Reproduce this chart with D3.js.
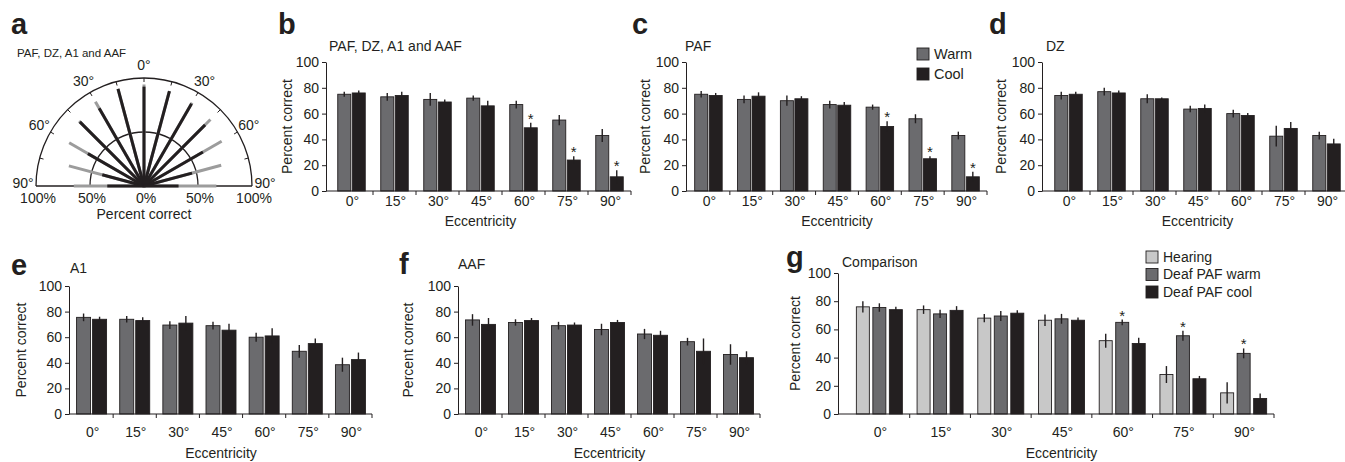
<!DOCTYPE html>
<html>
<head>
<meta charset="utf-8">
<script src="https://cdn.jsdelivr.net/npm/d3@7"></script>
<style>
  html, body { margin: 0; padding: 0; background: #fff; }
  svg { display: block; }
  text { font-family: 'Liberation Sans', Arial, Helvetica, sans-serif; fill: #231f20; }
</style>
</head>
<body>
<div id="chart"></div>
<script>
// ---- data ----
const eccLabels = ['0°', '15°', '30°', '45°', '60°', '75°', '90°'];

// panel a (polar): spoke angle, warm and cool percent correct
const polarAngles = [-90, -75, -60, -45, -30, -15, 0, 15, 30, 45, 60, 75, 90];
const polarWarm = [65, 72, 80, 85, 90, 93, 94, 91, 89, 87, 83, 74, 67];
const polarCool = [34, 40, 60, 84, 83, 93, 92, 91, 88, 80, 63, 46, 32];
const polarAngleLabels = [-90, -60, -30, 0, 30, 60, 90];
const polarPctLabels = [-100, -50, 0, 50, 100];

// panel b: PAF, DZ, A1 and AAF
const bWarm = [75, 73, 71, 72, 67, 55, 43];
const bWarmErr = [2, 3, 5, 2, 3, 4, 5];
const bCool = [76, 74, 69, 66, 49, 24, 11];
const bCoolErr = [2, 3, 2, 4, 4, 3, 5];
const bStars = [4, 5, 6];

// panel c: PAF
const cWarm = [75, 71, 70, 67, 65, 56, 43];
const cWarmErr = [2.5, 3, 4, 3, 2, 3.5, 3];
const cCool = [74, 73.5, 71.5, 66.5, 50, 25, 11];
const cCoolErr = [2, 3, 2, 2.5, 4, 2, 4];
const cStars = [4, 5, 6];

// panel d: DZ
const dWarm = [74, 77, 71.5, 63.5, 60, 42.5, 43];
const dWarmErr = [3, 3, 3.5, 2.5, 3, 8, 3];
const dCool = [75, 76, 71.5, 64, 58.5, 48.5, 36.5];
const dCoolErr = [2, 2, 1, 3, 2, 5, 4];

// panel e: A1
const eWarm = [75.5, 74, 69.5, 69, 60, 49, 38.5];
const eWarmErr = [3, 2.5, 3, 3, 3.5, 5, 5.5];
const eCool = [74, 73, 71, 65.5, 61, 55, 42.5];
const eCoolErr = [2, 2.5, 5.5, 5, 6, 4, 5.5];

// panel f: AAF
const fWarm = [73.5, 71.5, 69, 66, 62.5, 56.5, 46.5];
const fWarmErr = [4.5, 2.5, 3, 4.5, 4, 3, 8];
const fCool = [70, 73, 69.5, 71.5, 61.5, 49, 44];
const fCoolErr = [5, 2, 2, 2, 3.5, 10, 5];

// panel g: comparison
const gHearing = [76, 74, 68, 66.5, 52, 28, 15];
const gHearingErr = [4, 3, 3, 4, 5, 6, 7.5];
const gWarm = [75.5, 71, 69.5, 67.5, 65, 55.5, 43];
const gWarmErr = [3, 3, 3.5, 3.5, 2, 3.5, 3.5];
const gCool = [74, 73.5, 71.5, 66.5, 50, 25, 11];
const gCoolErr = [2, 3, 2, 2, 4, 2, 3.5];
const gStars = [4, 5, 6];

const yTicks = [0, 20, 40, 60, 80, 100];

const COL_WARM = '#6b6b6e';
const COL_COOL = '#231f20';
const COL_HEAR = '#c8c8c8';
const COL_POLAR_GREY = '#9c9c9c';
const INK = '#231f20';

const W = 1345, H = 462;
const svg = d3.select('#chart').append('svg')
    .attr('width', W)
    .attr('height', H);

const letter = (x, y, t) => svg.append('text')
    .attr('x', x).attr('y', y)
    .style('font-size', '29px').style('font-weight', 'bold')
    .text(t);

// ---------- panel a ----------
const drawPolar = () => {
    const cx = 144, cy = 186;
    const r = d3.scaleLinear().domain([0, 100]).range([0, 108]);
    const g = svg.append('g').attr('transform', `translate(${cx},${cy})`);

    // half circles at 50% and 100%
    [50, 100].forEach(v => {
        const p = d3.path();
        p.arc(0, 0, r(v), Math.PI, 2 * Math.PI);
        g.append('path').attr('d', p.toString())
            .attr('fill', 'none').attr('stroke', INK).attr('stroke-width', 1.3);
    });

    // small ticks along the outer arc
    const tickAngles = polarAngles.filter(a => Math.abs(a) < 90);
    g.selectAll('.ptick').data(tickAngles).join('line')
        .attr('x1', a => r(100) * Math.sin(a * Math.PI / 180))
        .attr('y1', a => -r(100) * Math.cos(a * Math.PI / 180))
        .attr('x2', a => (r(100) - 4) * Math.sin(a * Math.PI / 180))
        .attr('y2', a => -(r(100) - 4) * Math.cos(a * Math.PI / 180))
        .attr('stroke', INK).attr('stroke-width', 1);

    // base line
    g.append('line')
        .attr('x1', -r(100)).attr('x2', r(100))
        .attr('y1', 0).attr('y2', 0)
        .attr('stroke', INK).attr('stroke-width', 1.3);

    const spoke = (vals, color) => {
        g.selectAll(null).data(polarAngles).join('line')
            .attr('x1', 0).attr('y1', 0)
            .attr('x2', (a, i) => r(vals[i]) * Math.sin(a * Math.PI / 180))
            .attr('y2', (a, i) => -r(vals[i]) * Math.cos(a * Math.PI / 180))
            .attr('stroke', color).attr('stroke-width', 3);
    };
    spoke(polarWarm, COL_POLAR_GREY);
    spoke(polarCool, INK);

    // angle labels
    g.selectAll('.alab').data(polarAngleLabels).join('text')
        .attr('x', a => 121 * Math.sin(a * Math.PI / 180))
        .attr('y', a => -121 * Math.cos(a * Math.PI / 180) + (Math.abs(a) === 90 ? -3 : 0))
        .attr('dy', '0.35em')
        .attr('text-anchor', 'middle')
        .style('font-size', '14px')
        .text(a => Math.abs(a) + '°');

    // percent labels under the base line
    g.selectAll('.plab').data(polarPctLabels).join('text')
        .attr('x', v => Math.sign(v) * r(Math.abs(v)) + 2)
        .attr('y', 17)
        .attr('text-anchor', 'middle')
        .style('font-size', '14px')
        .text(v => Math.abs(v) + '%');

    svg.append('text').attr('x', cx).attr('y', 219)
        .attr('text-anchor', 'middle').style('font-size', '14px')
        .text('Percent correct');
    svg.append('text').attr('x', 17).attr('y', 57)
        .style('font-size', '11.5px')
        .text('PAF, DZ, A1 and AAF');
    letter(11, 34, 'a');
};

// ---------- bar panels ----------
const drawBars = (cfg) => {
    const y = d3.scaleLinear().domain([0, 100]).range([cfg.yBottom, cfg.yTop]);
    const x = d3.scaleBand().domain(eccLabels).range(cfg.band).paddingInner(0).paddingOuter(0);
    const n = cfg.series.length;
    const groupW = n * cfg.barW + (n - 1) * cfg.gap;
    const barX = (cat, s) => x(cat) + x.bandwidth() / 2 - groupW / 2 + s * (cfg.barW + cfg.gap);

    const g = svg.append('g');

    cfg.series.forEach((s, si) => {
        const rows = eccLabels.map((c, i) => ({ c, v: s.values[i], e: s.errs[i] }));
        g.selectAll(null).data(rows).join('rect')
            .attr('x', d => barX(d.c, si))
            .attr('y', d => y(d.v))
            .attr('width', cfg.barW)
            .attr('height', d => y(0) - y(d.v))
            .attr('fill', s.color)
            .attr('stroke', INK)
            .attr('stroke-width', 0.9);
        g.selectAll(null).data(rows).join('line')
            .attr('x1', d => barX(d.c, si) + cfg.barW / 2)
            .attr('x2', d => barX(d.c, si) + cfg.barW / 2)
            .attr('y1', d => y(d.v - d.e))
            .attr('y2', d => y(d.v + d.e))
            .attr('stroke', INK).attr('stroke-width', 1.4);
        if (s.stars) {
            g.selectAll(null).data(s.stars).join('text')
                .attr('x', i => barX(eccLabels[i], si) + cfg.barW / 2)
                .attr('y', i => y(s.values[i] + s.errs[i]) + 1)
                .attr('text-anchor', 'middle')
                .style('font-size', '15px')
                .text('*');
        }
    });

    // y axis
    const yAxis = d3.axisLeft(y).tickValues(yTicks).tickSize(4).tickSizeOuter(0).tickPadding(3);
    const ya = g.append('g').attr('transform', `translate(${cfg.axisX},0)`).call(yAxis);
    ya.selectAll('path, line').attr('stroke', INK);
    ya.selectAll('text').style('font-size', '14px')
        .style('font-family', "'Liberation Sans', Arial, sans-serif").attr('fill', INK);

    // x axis line and ticks between groups
    g.append('line')
        .attr('x1', cfg.axisX).attr('x2', cfg.band[1])
        .attr('y1', y(0)).attr('y2', y(0))
        .attr('stroke', INK).attr('stroke-width', 1);
    const bounds = eccLabels.slice(1).map(c => x(c)).concat([cfg.band[1]]);
    g.selectAll(null).data(bounds).join('line')
        .attr('x1', d => d).attr('x2', d => d)
        .attr('y1', y(0)).attr('y2', y(0) + 4)
        .attr('stroke', INK);
    g.selectAll(null).data(eccLabels).join('text')
        .attr('x', c => x(c) + x.bandwidth() / 2 + 1)
        .attr('y', cfg.tickY)
        .attr('text-anchor', 'middle')
        .style('font-size', '14px')
        .text(c => c);

    g.append('text')
        .attr('x', (cfg.band[0] + cfg.band[1]) / 2)
        .attr('y', cfg.titleXY)
        .attr('text-anchor', 'middle')
        .style('font-size', '14px')
        .text('Eccentricity');

    g.append('text')
        .attr('transform', `translate(${cfg.ylabX},${(cfg.yTop + cfg.yBottom) / 2}) rotate(-90)`)
        .attr('text-anchor', 'middle')
        .attr('dy', '0.35em')
        .style('font-size', '14px')
        .text('Percent correct');

    g.append('text').attr('x', cfg.title[0]).attr('y', cfg.title[1])
        .style('font-size', '14px').text(cfg.title[2]);
    letter(cfg.letter[0], cfg.letter[1], cfg.letter[2]);

    if (cfg.legend) {
        const lg = g.append('g');
        cfg.legend.items.forEach((it, i) => {
            const yy = cfg.legend.y + i * cfg.legend.step;
            lg.append('rect')
                .attr('x', cfg.legend.x).attr('y', yy - 6)
                .attr('width', 12).attr('height', 12)
                .attr('fill', it.color).attr('stroke', INK).attr('stroke-width', 0.9);
            lg.append('text')
                .attr('x', cfg.legend.x + 17).attr('y', yy)
                .attr('dy', '0.35em')
                .style('font-size', cfg.legend.size)
                .text(it.name);
        });
    }
};

drawPolar();

const row1 = { yTop: 62, yBottom: 191, tickY: 206, titleXY: 226, barW: 13, gap: 1.5 };
const row2 = { yTop: 286, yBottom: 414, tickY: 437, titleXY: 458, barW: 14, gap: 2 };

drawBars(Object.assign({}, row1, {
    axisX: 326, band: [330, 631], ylabX: 287,
    title: [329, 51, 'PAF, DZ, A1 and AAF'], letter: [278, 34, 'b'],
    series: [
        { values: bWarm, errs: bWarmErr, color: COL_WARM },
        { values: bCool, errs: bCoolErr, color: COL_COOL, stars: bStars }
    ]
}));

drawBars(Object.assign({}, row1, {
    axisX: 686, band: [687, 987], ylabX: 645,
    title: [685, 51, 'PAF'], letter: [632, 34, 'c'],
    series: [
        { values: cWarm, errs: cWarmErr, color: COL_WARM },
        { values: cCool, errs: cCoolErr, color: COL_COOL, stars: cStars }
    ],
    legend: { x: 917, y: 54, step: 20, size: '14.5px',
        items: [{ name: 'Warm', color: COL_WARM }, { name: 'Cool', color: COL_COOL }] }
}));

drawBars(Object.assign({}, row1, {
    axisX: 1042, band: [1047, 1348], ylabX: 1001,
    title: [1046, 51, 'DZ'], letter: [989, 34, 'd'],
    series: [
        { values: dWarm, errs: dWarmErr, color: COL_WARM },
        { values: dCool, errs: dCoolErr, color: COL_COOL }
    ]
}));

drawBars(Object.assign({}, row2, {
    axisX: 69, band: [70, 372], ylabX: 21,
    title: [70, 273, 'A1'], letter: [11, 275, 'e'],
    series: [
        { values: eWarm, errs: eWarmErr, color: COL_WARM },
        { values: eCool, errs: eCoolErr, color: COL_COOL }
    ]
}));

drawBars(Object.assign({}, row2, {
    axisX: 458, band: [459, 760], ylabX: 408,
    title: [458, 269, 'AAF'], letter: [399, 274, 'f'],
    series: [
        { values: fWarm, errs: fWarmErr, color: COL_WARM },
        { values: fCool, errs: fCoolErr, color: COL_COOL }
    ]
}));

drawBars(Object.assign({}, row2, {
    yTop: 273, axisX: 838, band: [849, 1274], ylabX: 795, barW: 13, gap: 3.5,
    title: [842, 267, 'Comparison'], letter: [786, 267, 'g'],
    series: [
        { values: gHearing, errs: gHearingErr, color: COL_HEAR },
        { values: gWarm, errs: gWarmErr, color: COL_WARM, stars: gStars },
        { values: gCool, errs: gCoolErr, color: COL_COOL }
    ],
    legend: { x: 1146, y: 257, step: 17.5, size: '14px',
        items: [
            { name: 'Hearing', color: COL_HEAR },
            { name: 'Deaf PAF warm', color: COL_WARM },
            { name: 'Deaf PAF cool', color: COL_COOL }
        ] }
}));
</script>
</body>
</html>
